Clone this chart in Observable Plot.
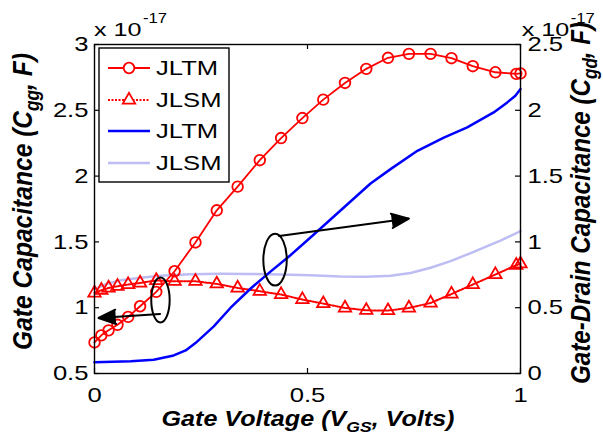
<!DOCTYPE html>
<html><head><meta charset="utf-8">
<script src="https://cdn.jsdelivr.net/npm/d3@7"></script>
<script src="https://cdn.jsdelivr.net/npm/@observablehq/plot@0.6"></script>
<style>
html,body{margin:0;padding:0;background:#fff;}
#chart{width:603px;height:439px;position:relative;}
</style></head><body><div id="chart"></div>
<script>
// ---- data ----
const vgs = [0, 0.016, 0.033, 0.054, 0.079, 0.107, 0.145, 0.188, 0.237, 0.287, 0.336, 0.388, 0.438, 0.488, 0.537, 0.588, 0.638, 0.689, 0.738, 0.789, 0.838, 0.888, 0.941, 0.99, 1.0];
const cggJLTM = [0.736, 0.79, 0.828, 0.87, 0.93, 1.011, 1.12, 1.277, 1.496, 1.74, 1.92, 2.121, 2.289, 2.441, 2.581, 2.708, 2.815, 2.899, 2.929, 2.929, 2.896, 2.835, 2.789, 2.777, 2.78];
const cggJLSM = [1.112, 1.133, 1.15, 1.163, 1.176, 1.188, 1.207, 1.201, 1.201, 1.181, 1.15, 1.125, 1.1, 1.062, 1.031, 0.998, 0.98, 0.978, 0.998, 1.036, 1.104, 1.176, 1.252, 1.323, 1.333];
const vgsGdJLTM = [0, 0.085, 0.139, 0.186, 0.214, 0.237, 0.28, 0.319, 0.366, 0.413, 0.46, 0.507, 0.554, 0.601, 0.648, 0.695, 0.758, 0.82, 0.875, 0.937, 0.969, 0.988, 1.0];
const cgdJLTM = [0.086, 0.093, 0.104, 0.137, 0.175, 0.231, 0.358, 0.498, 0.644, 0.774, 0.899, 1.033, 1.17, 1.307, 1.444, 1.553, 1.692, 1.793, 1.87, 1.984, 2.06, 2.111, 2.162];
const vgsGdJLSM = [0, 0.026, 0.061, 0.108, 0.155, 0.225, 0.296, 0.366, 0.437, 0.507, 0.577, 0.64, 0.695, 0.742, 0.789, 0.836, 0.883, 0.922, 0.953, 1.0];
const cgdJLSM = [0.64, 0.678, 0.709, 0.728, 0.743, 0.755, 0.758, 0.756, 0.752, 0.747, 0.738, 0.736, 0.743, 0.764, 0.804, 0.854, 0.915, 0.968, 1.01, 1.082];

const xTicks = [0, 0.5, 1];
const xTickLabels = ["0", "0.5", "1"];
const leftTicks = [0.5, 1, 1.5, 2, 2.5, 3];
const leftTickLabels = ["0.5", "1", "1.5", "2", "2.5", "3"];
const rightTickLabels = ["0", "0.5", "1", "1.5", "2", "2.5"];
const rightOffset = 0.5; // right axis value + 0.5 = left axis value
const legendLabels = ["JLTM", "JLSM", "JLTM", "JLSM"];

// annotations in data units (x, left-axis y)
const ellipseCx = [0.156, 0.425];
const ellipseCy = [1.055, 1.361];
const ellipseRx = [0.0216, 0.0275];
const ellipseRy = [0.171, 0.197];
const arrowX1 = [0.154, 0.4335], arrowY1 = [0.953, 1.544];
const arrowX2 = [0.0094, 0.738], arrowY2 = [0.922, 1.677];

// ---- tables ----
const tJLTM = vgs.map((x, i) => ({x, y: cggJLTM[i]}));
const tJLSM = vgs.map((x, i) => ({x, y: cggJLSM[i]}));
const tGdJLTM = vgsGdJLTM.map((x, i) => ({x, y: cgdJLTM[i] + rightOffset}));
const tGdJLSM = vgsGdJLSM.map((x, i) => ({x, y: cgdJLSM[i] + rightOffset}));
const ellipses = ellipseCx.map((cx, i) => ({cx, cy: ellipseCy[i], rx: ellipseRx[i], ry: ellipseRy[i]}));
const arrows = arrowX1.map((x1, i) => ({x1, y1: arrowY1[i], x2: arrowX2[i], y2: arrowY2[i]}));

const RED = "#ff0000", BLUE = "#0000ff", LBLUE = "#bdbdf3";
const FONT = "'Liberation Sans', Arial, Helvetica, sans-serif";

const ellipseMark = (index, scales) => {
  const g = d3.create("svg:g");
  for (const e of ellipses) {
    g.append("ellipse")
      .attr("cx", scales.x(e.cx)).attr("cy", scales.y(e.cy))
      .attr("rx", Math.abs(scales.x(e.cx + e.rx) - scales.x(e.cx)))
      .attr("ry", Math.abs(scales.y(e.cy + e.ry) - scales.y(e.cy)))
      .attr("fill", "none").attr("stroke", "black").attr("stroke-width", 2);
  }
  return g.node();
};

const chart = Plot.plot({
  width: 603, height: 439,
  marginLeft: 94, marginRight: 83, marginTop: 44, marginBottom: 66,
  style: {fontFamily: FONT, fontSize: "21px", color: "black", background: "white", overflow: "visible"},
  x: {domain: [0, 1]},
  y: {domain: [0.5, 3]},
  marks: [
    Plot.line(tGdJLSM, {x: "x", y: "y", stroke: LBLUE, strokeWidth: 2.5}),
    Plot.line(tJLTM, {x: "x", y: "y", stroke: RED, strokeWidth: 1.8}),
    Plot.dot(tJLTM, {x: "x", y: "y", r: 5.3, stroke: RED, strokeWidth: 1.8, fill: "none"}),
    Plot.line(tJLSM, {x: "x", y: "y", stroke: RED, strokeWidth: 2, strokeDasharray: "2,1.5"}),
    Plot.dot(tJLSM, {x: "x", y: "y", symbol: "triangle", r: 4.6, stroke: RED, strokeWidth: 1.8, fill: "none"}),
    Plot.line(tGdJLTM, {x: "x", y: "y", stroke: BLUE, strokeWidth: 2.5}),
    ellipseMark,
    Plot.arrow(arrows, {x1: "x1", y1: "y1", x2: "x2", y2: "y2", stroke: "black", fill: "black", strokeWidth: 2, headLength: 14, headAngle: 45}),
    Plot.frame({stroke: "black", strokeWidth: 1.4}),
    Plot.ruleY(leftTicks, {y: d => d, insetRight: 421, stroke: "black", strokeWidth: 1.2}),
    Plot.ruleY(leftTicks, {y: d => d, insetLeft: 421, stroke: "black", strokeWidth: 1.2}),
    Plot.ruleX(xTicks, {x: d => d, insetTop: 324, stroke: "black", strokeWidth: 1.2}),
    Plot.ruleX(xTicks, {x: d => d, insetBottom: 324, stroke: "black", strokeWidth: 1.2}),
    Plot.axisX({anchor: "bottom", ticks: xTicks, tickSize: 0, tickPadding: 14, label: null,
      tickFormat: d => xTickLabels[xTicks.indexOf(d)]}),
    Plot.axisY({anchor: "left", ticks: leftTicks, tickSize: 0, tickPadding: 6, label: null,
      tickFormat: d => leftTickLabels[leftTicks.indexOf(d)]}),
    Plot.axisY({anchor: "right", ticks: leftTicks, tickSize: 0, tickPadding: 7, label: null,
      tickFormat: d => rightTickLabels[leftTicks.indexOf(d)]})
  ]
});
document.getElementById("chart").appendChild(chart);
const svg = d3.select(chart);

function stretch(sel, k) {
  sel.each(function () {
    const w = this.getComputedTextLength();
    if (w > 0) { this.setAttribute("textLength", w * k); this.setAttribute("lengthAdjust", "spacingAndGlyphs"); }
  });
}
function fixLength(node, w) { node.setAttribute("textLength", w); node.setAttribute("lengthAdjust", "spacingAndGlyphs"); }

// tick labels are the only texts so far
stretch(svg.selectAll("text"), 1.22);

// ---- axis titles ----
function subLabel(parent, before, sub, after, size) {
  const t = parent.append("text").attr("font-family", FONT).attr("font-weight", "bold")
    .attr("font-style", "italic").attr("font-size", size).attr("fill", "black");
  t.append("tspan").text(before);
  t.append("tspan").attr("font-size", size * 0.7).attr("dy", size * 0.25).text(sub);
  t.append("tspan").attr("dy", -size * 0.25).text(after);
  return t;
}
const yl = subLabel(svg, "Gate Capacitance (C", "gg", ", F)", 23)
  .attr("text-anchor", "middle").attr("transform", "translate(31.5,201.5) rotate(-90) scale(1,1.24)");
fixLength(yl.node(), 297);
const yr = subLabel(svg, "Gate-Drain Capacitance (C", "gd", ", F)", 23)
  .attr("text-anchor", "middle").attr("transform", "translate(590,203) rotate(-90) scale(1,1.24)");
fixLength(yr.node(), 362);
const xl = subLabel(svg, "Gate Voltage (V", "GS", ", Volts)", 22)
  .attr("text-anchor", "middle").attr("x", 308).attr("y", 426);
fixLength(xl.node(), 293);

// ---- exponent labels ----
for (const x0 of [94, 521.7]) {
  const b = svg.append("text").attr("x", x0).attr("y", 36).attr("text-anchor", "start")
    .attr("font-family", FONT).attr("font-size", 19).text("x 10");
  fixLength(b.node(), 47.5);
  const s = svg.append("text").attr("x", x0 + 49).attr("y", 22.5).attr("text-anchor", "start")
    .attr("font-family", FONT).attr("font-size", 14).text("-17");
  fixLength(s.node(), 24);
}

// ---- legend ----
const lg = svg.append("g");
lg.append("rect").attr("x", 99).attr("y", 48).attr("width", 130).attr("height", 134)
  .attr("fill", "white").attr("stroke", "black").attr("stroke-width", 1.4);
const rowsY = [68, 100, 131, 163];
const styles = [
  {stroke: RED, w: 1.8, dash: null, marker: "circle"},
  {stroke: RED, w: 2, dash: "2,1.5", marker: "triangle"},
  {stroke: BLUE, w: 2.5, dash: null, marker: null},
  {stroke: LBLUE, w: 2.5, dash: null, marker: null}
];
legendLabels.forEach((lab, i) => {
  const y = rowsY[i], s = styles[i];
  lg.append("line").attr("x1", 108).attr("x2", 150).attr("y1", y).attr("y2", y)
    .attr("stroke", s.stroke).attr("stroke-width", s.w).attr("stroke-dasharray", s.dash);
  if (s.marker === "circle") {
    lg.append("circle").attr("cx", 129).attr("cy", y).attr("r", 5.3).attr("fill", "white")
      .attr("stroke", RED).attr("stroke-width", 1.8);
  } else if (s.marker === "triangle") {
    lg.append("path").attr("d", d3.symbol(d3.symbolTriangle, Math.PI * 4.6 * 4.6)())
      .attr("transform", `translate(129,${y})`).attr("fill", "white").attr("stroke", RED).attr("stroke-width", 1.8);
  }
  const t = lg.append("text").attr("x", 156).attr("y", y).attr("dy", "0.35em").attr("text-anchor", "start")
    .attr("font-family", FONT).attr("font-size", 21).attr("fill", "black").text(lab);
  stretch(t, 1.22);
});
</script>
</body></html>
